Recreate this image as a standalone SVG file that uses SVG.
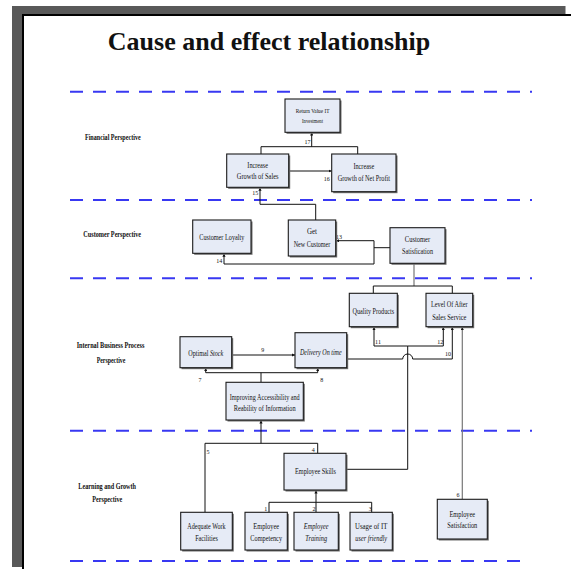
<svg xmlns="http://www.w3.org/2000/svg" width="571" height="569" viewBox="0 0 571 569">
<style>
text{font-family:"Liberation Serif","Times New Roman",serif;fill:#111}
.title{font-size:26px;font-weight:bold;text-anchor:middle}
.persp{font-size:7.5px;font-weight:bold;text-anchor:middle}
.nt{font-size:7.5px;text-anchor:middle}
.it{font-style:italic}
.num{font-size:6px;text-anchor:middle}
.box{fill:#e6ebf6;stroke:#1a1a1a;stroke-width:1.1}
.shadow{fill:#6f6f6f}
.dash{stroke:#3838f2;stroke-width:2;stroke-dasharray:13 10;fill:none}
.ln{stroke:#111;stroke-width:1;fill:none}
.gr{stroke:#777;stroke-width:1.2;fill:none}
.arr{marker-end:url(#ah)}
</style>
<defs>
<marker id="ah" viewBox="0 0 6 6" refX="6" refY="3" markerWidth="3.2" markerHeight="3.2" orient="auto" markerUnits="userSpaceOnUse">
<path d="M0 0 L6 3 L0 6 z" fill="#111"/>
</marker>
</defs>
<rect id="frame-shadow" x="12" y="6" width="553.5" height="561" fill="#595959"/>
<rect id="frame" x="23" y="15" width="570" height="570" fill="#fff" stroke="#000" stroke-width="2"/>
<text class="title" x="269" y="49.5">Cause and effect relationship</text>
<g id="dividers">
<line class="dash" x1="70" y1="91.7" x2="532" y2="91.7"/>
<line class="dash" x1="70" y1="200" x2="532" y2="200"/>
<line class="dash" x1="70" y1="278.3" x2="532" y2="278.3"/>
<line class="dash" x1="70" y1="430.7" x2="532" y2="430.7"/>
<line class="dash" x1="70" y1="561" x2="524" y2="561"/>
</g>
<g id="perspectives">
<text class="persp" x="112.8" y="140" textLength="55.7" lengthAdjust="spacingAndGlyphs">Financial Perspective</text>
<text class="persp" x="112.2" y="236.5" textLength="57.7" lengthAdjust="spacingAndGlyphs">Customer Perspective</text>
<text class="persp" x="110.5" y="348" textLength="67.7" lengthAdjust="spacingAndGlyphs">Internal Business Process</text>
<text class="persp" x="111" y="362.5" textLength="28.7" lengthAdjust="spacingAndGlyphs">Perspective</text>
<text class="persp" x="107.2" y="489" textLength="57.7" lengthAdjust="spacingAndGlyphs">Learning and Growth</text>
<text class="persp" x="107.3" y="501.5" textLength="30" lengthAdjust="spacingAndGlyphs">Perspective</text>
</g>
<g id="connectors">
<path class="ln" d="M261 154 V146.7 H357.7 V154"/>
<path class="ln arr" d="M311.7 146.7 V132.3"/>
<path class="ln arr" d="M288.7 171 H331.7"/>
<path class="ln arr" d="M315.7 220 V204.3 H260 V187.6"/>
<path class="ln" d="M390 247.7 H374 M374 240.7 V264"/>
<path class="ln arr" d="M374 240.7 H336"/>
<path class="ln arr" d="M374 264 H224 V253.6"/>
<path class="gr" d="M414 263.6 V286"/>
<path class="ln" d="M373.3 293.3 V286 H452.3 V293.3"/>
<path class="ln arr" d="M231.7 355 H295" stroke-width="2"/>
<path class="ln" d="M261 382.3 V372.7"/>
<path class="ln arr" d="M261 372.7 H205.7 V368"/>
<path class="ln arr" d="M261 372.7 H317.7 V368"/>
<path class="ln arr" d="M346.7 359 H402.7 A5 5 0 0 1 412.7 359 H452.3 V327"/>
<path class="ln arr" d="M407.7 346 H374 V327"/>
<path class="ln arr" d="M407.7 346 H443.3 V327"/>
<path class="ln" d="M346.3 469.3 H407.7 V346"/>
<path class="gr arr" d="M462.3 499.3 V327"/>
<path class="ln arr" d="M205 512.3 V443.3 H261 V420.3"/>
<path class="ln" d="M317.7 453.3 V443.3 H261"/>
<path class="ln arr" d="M269 512.3 V502.3 H316 V490.3"/>
<path class="ln" d="M316 512.3 V502.3 M371.7 512.3 V502.3 H316"/>
<text class="num" x="307.5" y="144">17</text>
<text class="num" x="326.7" y="181">16</text>
<text class="num" x="255.3" y="194.5">15</text>
<text class="num" x="338.9" y="239">13</text>
<text class="num" x="219.2" y="263">14</text>
<text class="num" x="262.7" y="351.5">9</text>
<text class="num" x="200" y="382">7</text>
<text class="num" x="321.7" y="382">8</text>
<text class="num" x="378" y="344">11</text>
<text class="num" x="440.2" y="344">12</text>
<text class="num" x="447.9" y="356">10</text>
<text class="num" x="208" y="454">5</text>
<text class="num" x="313.3" y="452">4</text>
<text class="num" x="458" y="497">6</text>
<text class="num" x="265.8" y="510.5">1</text>
<text class="num" x="314" y="510.5">2</text>
<text class="num" x="370.3" y="510.5">3</text>
</g>
<g id="n-return"><rect class="shadow" x="286.5" y="100.5" width="55" height="33.3"/><rect class="box" x="285" y="99" width="55" height="33.3"/>
<text class="nt" x="312.5" y="113" textLength="33.7" lengthAdjust="spacingAndGlyphs" style="font-size:6.5px">Return Value IT</text>
<text class="nt" x="312.5" y="123" textLength="21" lengthAdjust="spacingAndGlyphs" style="font-size:6.5px">Investment</text></g>
<g id="n-sales"><rect class="shadow" x="228.2" y="155.5" width="62" height="33.3"/><rect class="box" x="226.7" y="154" width="62" height="33.3"/>
<text class="nt" x="257.7" y="168" textLength="20.7" lengthAdjust="spacingAndGlyphs">Increase</text>
<text class="nt" x="257.7" y="179" textLength="41.7" lengthAdjust="spacingAndGlyphs">Growth of Sales</text></g>
<g id="n-netprofit"><rect class="shadow" x="333.2" y="155.5" width="64.3" height="37.7"/><rect class="box" x="331.7" y="154" width="64.3" height="37.7"/>
<text class="nt" x="363.8" y="169" textLength="20.7" lengthAdjust="spacingAndGlyphs">Increase</text>
<text class="nt" x="363.8" y="181.3" textLength="52.3" lengthAdjust="spacingAndGlyphs">Growth of Net Profit</text></g>
<g id="n-loyalty"><rect class="shadow" x="194.2" y="221.5" width="58.3" height="33.3"/><rect class="box" x="192.7" y="220" width="58.3" height="33.3"/>
<text class="nt" x="221.8" y="240" textLength="45" lengthAdjust="spacingAndGlyphs">Customer Loyalty</text></g>
<g id="n-getnew"><rect class="shadow" x="289.8" y="221.5" width="47.4" height="36"/><rect class="box" x="288.3" y="220" width="47.4" height="36"/>
<text class="nt" x="312" y="234" textLength="10" lengthAdjust="spacingAndGlyphs">Get</text>
<text class="nt" x="312" y="246.6" textLength="36.7" lengthAdjust="spacingAndGlyphs">New Customer</text></g>
<g id="n-custsat"><rect class="shadow" x="391.5" y="229.2" width="55" height="35.6"/><rect class="box" x="390" y="227.7" width="55" height="35.6"/>
<text class="nt" x="417.5" y="242.3" textLength="25.3" lengthAdjust="spacingAndGlyphs">Customer</text>
<text class="nt" x="417.5" y="254" textLength="31" lengthAdjust="spacingAndGlyphs">Satisfication</text></g>
<g id="n-quality"><rect class="shadow" x="350.8" y="294.8" width="48" height="33.4"/><rect class="box" x="349.3" y="293.3" width="48" height="33.4"/>
<text class="nt" x="373.3" y="314" textLength="41.7" lengthAdjust="spacingAndGlyphs">Quality Products</text></g>
<g id="n-level"><rect class="shadow" x="427.5" y="294.8" width="46.7" height="33.4"/><rect class="box" x="426" y="293.3" width="46.7" height="33.4"/>
<text class="nt" x="449.3" y="307.3" textLength="36.7" lengthAdjust="spacingAndGlyphs">Level Of After</text>
<text class="nt" x="449.3" y="320" textLength="34.3" lengthAdjust="spacingAndGlyphs">Sales Service</text></g>
<g id="n-optimal"><rect class="shadow" x="181.5" y="338.2" width="51.7" height="31"/><rect class="box" x="180" y="336.7" width="51.7" height="31"/>
<text class="nt" transform="translate(205.8 355.6) scale(0.82 1)" x="0" y="0">Optimal <tspan class="it">Stock</tspan></text></g>
<g id="n-delivery"><rect class="shadow" x="296.5" y="334.2" width="51.7" height="35"/><rect class="box" x="295" y="332.7" width="51.7" height="35"/>
<text class="nt it" x="320.8" y="355" textLength="41.7" lengthAdjust="spacingAndGlyphs">Delivery On time</text></g>
<g id="n-improving"><rect class="shadow" x="227.5" y="383.8" width="77.3" height="37.7"/><rect class="box" x="226" y="382.3" width="77.3" height="37.7"/>
<text class="nt" x="264.7" y="399.6" textLength="70" lengthAdjust="spacingAndGlyphs">Improving Accessibility and</text>
<text class="nt" x="264.7" y="411.3" textLength="62" lengthAdjust="spacingAndGlyphs">Reability of Information</text></g>
<g id="n-skills"><rect class="shadow" x="285.5" y="454.8" width="62" height="36.7"/><rect class="box" x="284" y="453.3" width="62" height="36.7"/>
<text class="nt" x="315.5" y="474" textLength="41" lengthAdjust="spacingAndGlyphs">Employee Skills</text></g>
<g id="n-adequate"><rect class="shadow" x="182.2" y="513.8" width="51.6" height="37.7"/><rect class="box" x="180.7" y="512.3" width="51.6" height="37.7"/>
<text class="nt" x="206.5" y="529" textLength="38.3" lengthAdjust="spacingAndGlyphs">Adequate Work</text>
<text class="nt" x="206.5" y="540.6" textLength="22.7" lengthAdjust="spacingAndGlyphs">Facilities</text></g>
<g id="n-competency"><rect class="shadow" x="246.5" y="513.8" width="42.3" height="37.7"/><rect class="box" x="245" y="512.3" width="42.3" height="37.7"/>
<text class="nt" x="266.2" y="529" textLength="25.7" lengthAdjust="spacingAndGlyphs">Employee</text>
<text class="nt" x="266.2" y="540.6" textLength="31.7" lengthAdjust="spacingAndGlyphs">Competency</text></g>
<g id="n-training"><rect class="shadow" x="295.5" y="513.8" width="44.3" height="37.7"/><rect class="box" x="294" y="512.3" width="44.3" height="37.7"/>
<text class="nt it" x="316.2" y="529" textLength="24.7" lengthAdjust="spacingAndGlyphs">Employee</text>
<text class="nt it" x="316.2" y="540.6" textLength="21.7" lengthAdjust="spacingAndGlyphs">Training</text></g>
<g id="n-usage"><rect class="shadow" x="351.5" y="513.8" width="42.3" height="37.7"/><rect class="box" x="350" y="512.3" width="42.3" height="37.7"/>
<text class="nt" x="371.2" y="529" textLength="32.3" lengthAdjust="spacingAndGlyphs">Usage of IT</text>
<text class="nt it" x="371.2" y="540.6" textLength="31.7" lengthAdjust="spacingAndGlyphs">user friendly</text></g>
<g id="n-empsat"><rect class="shadow" x="438.8" y="500.8" width="50" height="39.7"/><rect class="box" x="437.3" y="499.3" width="50" height="39.7"/>
<text class="nt" x="462.3" y="516.6" textLength="25.7" lengthAdjust="spacingAndGlyphs">Employee</text>
<text class="nt" x="462.3" y="528.3" textLength="30" lengthAdjust="spacingAndGlyphs">Satisfaction</text></g>
</svg>
